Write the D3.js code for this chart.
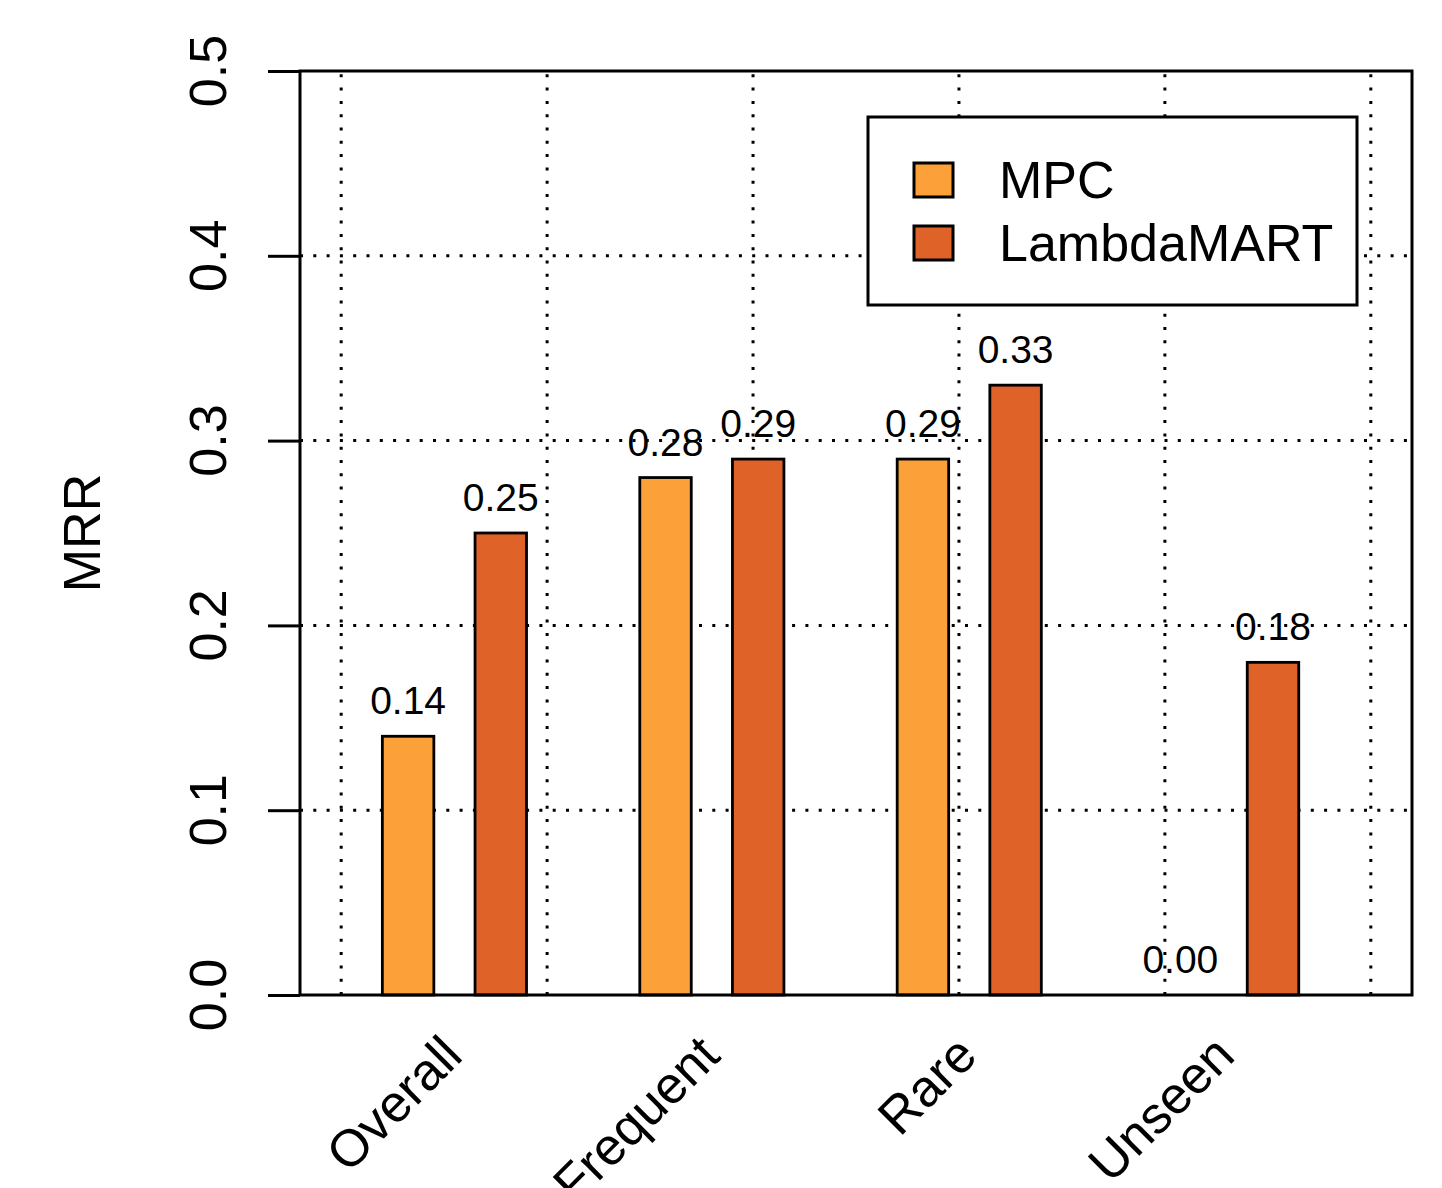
<!DOCTYPE html>
<html>
<head>
<meta charset="utf-8">
<script src="https://cdn.jsdelivr.net/npm/d3@7"></script>
<style>
  html, body { margin: 0; padding: 0; background: #ffffff; }
  svg { display: block; font-family: "Liberation Sans", Arial, Helvetica, sans-serif; }
</style>
</head>
<body>
<svg id="chart" width="1442" height="1188"></svg>
<script>
// MRR per query group for the two rankers
const categories = ["Overall", "Frequent", "Rare", "Unseen"];
const seriesNames = ["MPC", "LambdaMART"];
const mpcValues = [0.14, 0.28, 0.29, 0.00];
const lambdaMartValues = [0.25, 0.29, 0.33, 0.18];
const yTickValues = [0.0, 0.1, 0.2, 0.3, 0.4, 0.5];
const yGridValues = [0.1, 0.2, 0.3, 0.4];
const xGridValues = [0, 4, 8, 12, 16, 20];
const seriesColors = ["#fca13a", "#df6228"];

const series = [mpcValues, lambdaMartValues];

// bar layout in axis units (barplot style)
const barWidth = 1;
const firstOffset = 0.8;
const innerGap = 0.8;
const groupPitch = 5;
const labelShift = 0.2;

const svg = d3.select("#chart");
svg.append("rect").attr("width", 1442).attr("height", 1188).attr("fill", "#fff");

const plot = { left: 300, right: 1412, top: 71, bottom: 995 };

const x = d3.scaleLinear().domain([-0.8, 20.8]).range([plot.left, plot.right]);
const y = d3.scaleLinear().domain([0, 0.5]).range([plot.bottom, plot.top]);

const barStart = (s, i) => firstOffset + i * groupPitch + s * (barWidth + innerGap);

// dotted grid
const grid = svg.append("g")
  .attr("stroke", "#000")
  .attr("stroke-width", 3)
  .attr("stroke-dasharray", "3,10.3")
  .attr("fill", "none");
grid.selectAll("line.v").data(xGridValues).join("line")
  .attr("class", "v")
  .attr("x1", d => x(d)).attr("x2", d => x(d))
  .attr("y1", plot.bottom).attr("y2", plot.top);
grid.selectAll("line.h").data(yGridValues).join("line")
  .attr("class", "h")
  .attr("x1", plot.left).attr("x2", plot.right)
  .attr("y1", d => y(d)).attr("y2", d => y(d));

// bars
const bars = [];
series.forEach((vals, s) => vals.forEach((v, i) => bars.push({ s, i, v })));

svg.append("g").selectAll("rect").data(bars).join("rect")
  .attr("x", d => x(barStart(d.s, d.i)))
  .attr("width", d => x(barStart(d.s, d.i) + barWidth) - x(barStart(d.s, d.i)))
  .attr("y", d => y(d.v))
  .attr("height", d => y(0) - y(d.v))
  .attr("fill", d => seriesColors[d.s])
  .attr("stroke", "#000")
  .attr("stroke-width", 2.8);

// value labels above bars
svg.append("g").selectAll("text").data(bars).join("text")
  .attr("x", d => x(barStart(d.s, d.i) + barWidth / 2))
  .attr("y", d => y(d.v) - 22)
  .attr("text-anchor", "middle")
  .attr("font-size", 39)
  .attr("fill", "#000")
  .text(d => d3.format(".2f")(d.v));

// frame
svg.append("rect")
  .attr("x", plot.left).attr("y", plot.top)
  .attr("width", plot.right - plot.left).attr("height", plot.bottom - plot.top)
  .attr("fill", "none").attr("stroke", "#000").attr("stroke-width", 3);

// y axis ticks
const yAxis = svg.append("g")
  .attr("transform", `translate(${plot.left},0)`)
  .call(d3.axisLeft(y).tickValues(yTickValues).tickSize(32).tickFormat(""));
yAxis.select(".domain").remove();
yAxis.selectAll(".tick line").attr("stroke", "#000").attr("stroke-width", 3);

// y tick labels, parallel to the axis
svg.append("g").selectAll("text").data(yTickValues).join("text")
  .attr("transform", d => `translate(226,${y(d)}) rotate(-90)`)
  .attr("text-anchor", "middle")
  .attr("font-size", 52)
  .attr("fill", "#000")
  .text(d => d3.format(".1f")(d));

// y axis title
svg.append("text")
  .attr("transform", `translate(100,${(plot.top + plot.bottom) / 2}) rotate(-90)`)
  .attr("text-anchor", "middle")
  .attr("font-size", 52)
  .attr("fill", "#000")
  .text("MRR");

// category labels, slanted
svg.append("g").selectAll("text").data(categories).join("text")
  .attr("transform", (d, i) => {
    const cx = x(firstOffset + i * groupPitch + (2 * barWidth + innerGap) / 2 + labelShift);
    return `translate(${cx},1058) rotate(-45)`;
  })
  .attr("text-anchor", "end")
  .attr("font-size", 52)
  .attr("fill", "#000")
  .text(d => d);

// legend
const legend = svg.append("g");
legend.append("rect")
  .attr("x", 868).attr("y", 117).attr("width", 489).attr("height", 188)
  .attr("fill", "#fff").attr("stroke", "#000").attr("stroke-width", 3);
const items = legend.selectAll("g.item").data(seriesNames).join("g")
  .attr("class", "item")
  .attr("transform", (d, i) => `translate(0,${i * 63})`);
items.append("rect")
  .attr("x", 914).attr("y", 163).attr("width", 39).attr("height", 34)
  .attr("fill", (d, i) => seriesColors[i])
  .attr("stroke", "#000").attr("stroke-width", 3);
items.append("text")
  .attr("x", 999).attr("y", 198)
  .attr("font-size", 52)
  .attr("fill", "#000")
  .text(d => d);
</script>
</body>
</html>
